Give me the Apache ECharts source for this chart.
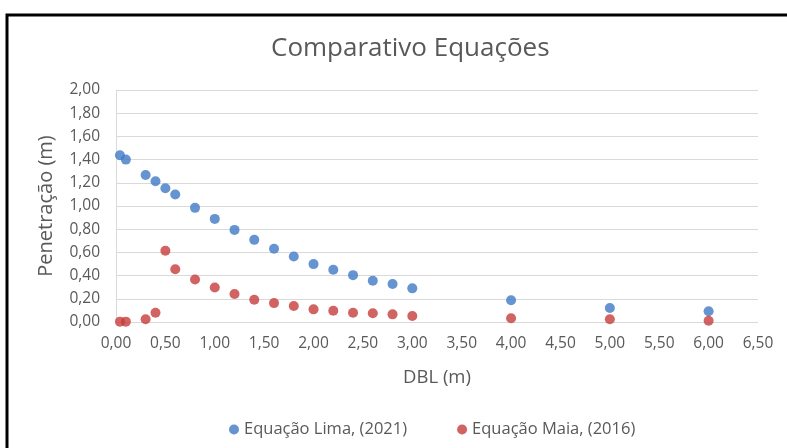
<!DOCTYPE html>
<html><head><meta charset="utf-8">
<script src="https://cdn.jsdelivr.net/npm/echarts@6/dist/echarts.min.js"></script>
<style>html,body{margin:0;padding:0;background:#fff}#c{width:787px;height:448px}</style>
</head><body><div id="c"></div>
<script>
const limaX = [0.04,0.10,0.30,0.40,0.50,0.60,0.80,1.00,1.20,1.40,1.60,1.80,2.00,2.20,2.40,2.60,2.80,3.00,4.00,5.00,6.00];
const limaY = [1.437,1.40,1.268,1.213,1.153,1.099,0.984,0.889,0.794,0.708,0.631,0.565,0.499,0.45,0.404,0.355,0.327,0.29,0.187,0.12,0.092];
const maiaX = [0.04,0.10,0.30,0.40,0.50,0.60,0.80,1.00,1.20,1.40,1.60,1.80,2.00,2.20,2.40,2.60,2.80,3.00,4.00,5.00,6.00];
const maiaY = [0.003,0.003,0.023,0.08,0.614,0.454,0.367,0.298,0.241,0.192,0.163,0.138,0.109,0.097,0.08,0.075,0.066,0.052,0.032,0.023,0.011];
const seriesNames = ['Equação Lima, (2021)','Equação Maia, (2016)'];
const titleText = 'Comparativo Equações';
const xName = 'DBL (m)', yName = 'Penetração (m)';

const fmt = v => v.toFixed(2).replace('.', ',');
const pair = (xs, ys) => xs.map((x,i)=>[x, ys[i]]);
const font = 'Open Sans';
const chart = echarts.init(document.getElementById('c'));
chart.setOption({
  animation:false,
  backgroundColor:'#fff',
  title:{text:titleText,left:266,top:31,
    textStyle:{fontFamily:font,fontSize:26,fontWeight:'normal',color:'#595959'}},
  graphic:[{type:'rect',shape:{x:7,y:15,width:800,height:450},
    style:{fill:'none',stroke:'#000',lineWidth:3},silent:true}],
  grid:{left:116,right:29,top:90,bottom:126},
  legend:{bottom:5,left:224,itemGap:50,icon:'circle',itemWidth:10,itemHeight:10,
    textStyle:{fontFamily:font,fontSize:16.5,color:'#595959'},data:seriesNames},
  xAxis:{type:'value',min:0,max:6.5,interval:0.5,
    name:xName,nameLocation:'middle',nameGap:46,
    nameTextStyle:{fontFamily:font,fontSize:18.5,color:'#595959'},
    axisLine:{show:false},axisTick:{show:false},splitLine:{show:false},
    axisLabel:{formatter:fmt,fontFamily:font,fontSize:15.5,color:'#595959',margin:14}},
  yAxis:{type:'value',min:0,max:2,interval:0.2,
    name:yName,nameLocation:'middle',nameGap:60,
    nameTextStyle:{fontFamily:font,fontSize:20,color:'#595959'},
    axisLine:{show:true,lineStyle:{color:'#d9d9d9'}},axisTick:{show:false},
    splitLine:{lineStyle:{color:'#d9d9d9'}},
    axisLabel:{formatter:fmt,fontFamily:font,fontSize:15.5,color:'#595959',margin:16}},
  series:[
    {name:seriesNames[0],type:'scatter',symbolSize:10,itemStyle:{color:'#3E79C5'},data:pair(limaX,limaY)},
    {name:seriesNames[1],type:'scatter',symbolSize:10,itemStyle:{color:'#C63C3C'},data:pair(maiaX,maiaY)}
  ]
});
</script></body></html>
